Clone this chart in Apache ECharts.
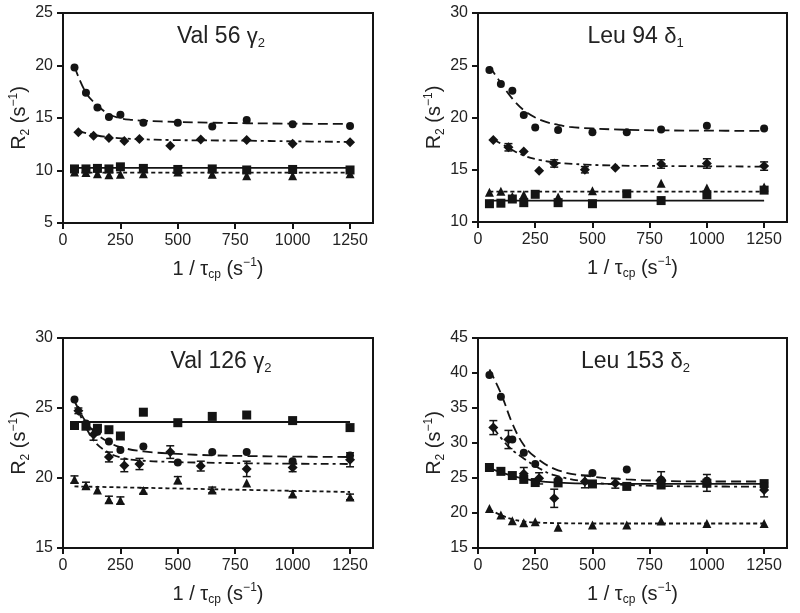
<!DOCTYPE html>
<html><head><meta charset="utf-8">
<script src="https://cdn.jsdelivr.net/npm/echarts@6/dist/echarts.min.js"></script>
<style>html,body{margin:0;padding:0;background:#fff}#c{width:800px;height:613px}</style>
</head><body><div id="c"></div>
<script>
// ---------- data ----------
const xTickLabels = [0, 250, 500, 750, 1000, 1250];
const xPts = [50, 100, 150, 200, 250, 350, 500, 650, 800, 1000, 1250];
const xDia = [67, 133, 200, 267, 333, 467, 600, 800, 1000, 1250];

const panelTitles = ['Val 56 {g|γ}{sub|2}', 'Leu 94 {g|δ}{sub|1}', 'Val 126 {g|γ}{sub|2}', 'Leu 153 {g|δ}{sub|2}'];
const yMins = [5, 10, 15, 15];
const yMaxs = [25, 30, 30, 45];
const yIntervals = [5, 5, 5, 5];

// Panel 1: Val 56 γ2
const p1Circle = [19.8, 17.4, 16.0, 15.1, 15.3, 14.55, 14.55, 14.2, 14.8, 14.4, 14.25];
const p1Diamond = [13.65, 13.3, 13.1, 12.8, 13.0, 12.35, 12.95, 12.9, 12.55, 12.7];
const p1Square = [10.15, 10.15, 10.2, 10.15, 10.35, 10.2, 10.1, 10.15, 10.05, 10.1, 10.05];
const p1Triangle = [9.85, 9.8, 9.7, 9.6, 9.65, 9.7, 9.85, 9.65, 9.5, 9.5, 9.7];
const p1CircleFitX = [50, 100, 150, 200, 250, 300, 350, 500, 650, 800, 1000, 1250];
const p1CircleFit = [19.9, 17.4, 16.2, 15.35, 14.98, 14.82, 14.74, 14.62, 14.55, 14.5, 14.46, 14.43];
const p1DiamondFit = [13.75, 13.4, 13.17, 13.05, 12.98, 12.9, 12.87, 12.84, 12.78, 12.72];
const p1SquareFit = [10.25, 10.25];
const p1TriangleFit = [9.8, 9.8];
const p1FlatX = [50, 1250];

// Panel 2: Leu 94 δ1
const p2Circle = [24.55, 23.2, 22.55, 20.25, 19.05, 18.8, 18.6, 18.6, 18.85, 19.2, 18.95];
const p2Diamond = [17.85, 17.15, 16.75, 14.9, 15.6, 15.0, 15.2, 15.55, 15.6, 15.35];
const p2DiamondErr = [0, 0.35, 0, 0, 0.35, 0.3, 0, 0.4, 0.45, 0.4];
const p2Square = [11.75, 11.8, 12.2, 11.85, 12.65, 11.85, 11.75, 12.7, 12.05, 12.6, 13.05];
const p2TriangleX = [50, 100, 150, 200, 350, 500, 800, 1000, 1250];
const p2Triangle = [12.85, 12.95, 12.45, 12.6, 12.4, 13.0, 13.7, 13.25, 13.35];
const p2CircleFitX = [50, 100, 150, 200, 250, 300, 350, 400, 500, 650, 800, 1000, 1250];
const p2CircleFit = [24.9, 23.3, 21.8, 20.7, 20.0, 19.55, 19.3, 19.1, 18.95, 18.82, 18.77, 18.74, 18.72];
const p2DiamondFit = [17.9, 17.1, 16.35, 15.95, 15.7, 15.5, 15.4, 15.36, 15.33, 15.3];
const p2SquareFit = [12.05, 12.05];
const p2TriangleFit = [12.9, 12.9];

// Panel 3: Val 126 γ2
const p3Circle = [25.6, 23.9, 23.3, 22.6, 22.0, 22.25, 21.1, 21.85, 21.85, 21.2, 21.6];
const p3Diamond = [24.8, 23.1, 21.5, 20.9, 21.0, 21.85, 20.85, 20.65, 20.75, 21.3];
const p3DiamondErr = [0.2, 0.4, 0.35, 0.45, 0.4, 0.45, 0.35, 0.55, 0.3, 0.5];
const p3Square = [23.75, 23.7, 23.55, 23.45, 23.0, 24.7, 23.95, 24.4, 24.5, 24.1, 23.6];
const p3Triangle = [19.9, 19.45, 19.15, 18.45, 18.4, 19.1, 19.85, 19.15, 19.65, 18.85, 18.65];
const p3TriangleErr = [0.25, 0.25, 0, 0.25, 0.25, 0.2, 0.25, 0.2, 0, 0.2, 0.2];
const p3CircleFit = [25.5, 24.0, 23.1, 22.55, 22.2, 21.9, 21.72, 21.62, 21.57, 21.53, 21.5];
const p3DiamondFit = [24.8, 22.7, 21.8, 21.4, 21.25, 21.15, 21.1, 21.05, 21.02, 21.0];
const p3SquareFit = [24.0, 24.0];
const p3TriangleFitX = [50, 650, 1250];
const p3TriangleFit = [19.4, 19.2, 19.0];

// Panel 4: Leu 153 δ2
const p4Circle = [39.7, 36.6, 30.5, 28.6, 27.0, 24.7, 25.7, 26.2, 24.7, 24.6, 23.8];
const p4Diamond = [32.2, 30.5, 25.6, 24.95, 22.1, 24.5, 24.25, 24.8, 24.3, 23.3];
const p4DiamondErr = [1.0, 1.3, 0.9, 0.8, 1.3, 0.9, 0.7, 1.1, 1.2, 1.0];
const p4Square = [26.5, 25.95, 25.35, 24.8, 24.35, 24.3, 24.15, 23.8, 24.0, 24.25, 24.2];
const p4Triangle = [20.65, 19.7, 18.9, 18.6, 18.75, 17.95, 18.3, 18.3, 18.85, 18.5, 18.5];
const p4CircleFit = [40.5, 37.1, 32.8, 29.7, 28.0, 26.1, 25.2, 24.8, 24.6, 24.5, 24.5];
const p4DiamondFit = [32.2, 29.5, 27.8, 26.4, 25.4, 24.5, 24.1, 23.86, 23.8, 23.76];
const p4CurveX = [50, 100, 150, 200, 250, 350, 500, 800, 1250];
const p4SquareFit = [26.4, 25.8, 25.3, 24.9, 24.6, 24.35, 24.2, 24.15, 24.15];
const p4TriangleFit = [20.5, 19.7, 19.1, 18.8, 18.65, 18.55, 18.5, 18.5, 18.5];

// ---------- build ----------
const INK = '#141414';
const FONT = '"Liberation Sans", Arial, sans-serif';
const grids = [
  {left: 63, top: 13, width: 310, height: 210},
  {left: 478, top: 13, width: 309, height: 209},
  {left: 63, top: 338, width: 310, height: 210},
  {left: 478, top: 338, width: 309, height: 210}
];
const zip = (xs, ys) => xs.map((x, i) => [x, ys[i]]);
const errData = (xs, ys, es) => xs.map((x, i) => [x, ys[i] - es[i], ys[i] + es[i], es[i]]).filter(d => d[3] > 0);

const subRich = {
  sub: {fontSize: 12, fontFamily: FONT, color: '#222', verticalAlign: 'bottom', lineHeight: 12},
  sup: {fontSize: 12, fontFamily: FONT, color: '#222', verticalAlign: 'top', lineHeight: 12},
  g: {fontSize: 20, fontFamily: FONT, color: '#222', lineHeight: 24}
};

const series = [];
function scatter(gi, data, symbol, size) {
  series.push({type: 'scatter', xAxisIndex: gi, yAxisIndex: gi, data, symbol, symbolSize: size,
    itemStyle: {color: INK, opacity: 1}, z: 5, silent: true});
}
function fit(gi, xs, ys, dash) {
  series.push({type: 'line', xAxisIndex: gi, yAxisIndex: gi, data: zip(xs, ys), smooth: 0.4,
    showSymbol: false, symbol: 'none', lineStyle: {color: INK, width: 1.8, type: dash}, z: 3, silent: true});
}
function ebars(gi, data) {
  series.push({type: 'custom', xAxisIndex: gi, yAxisIndex: gi, data, z: 4, silent: true,
    encode: {x: 0, y: [1, 2]},
    renderItem: (params, api) => {
      const x = api.value(0);
      const a = api.coord([x, api.value(2)]);
      const b = api.coord([x, api.value(1)]);
      const w = 4, st = {stroke: INK, lineWidth: 1.5};
      return {type: 'group', children: [
        {type: 'line', shape: {x1: a[0], y1: a[1], x2: b[0], y2: b[1]}, style: st},
        {type: 'line', shape: {x1: a[0] - w, y1: a[1], x2: a[0] + w, y2: a[1]}, style: st},
        {type: 'line', shape: {x1: b[0] - w, y1: b[1], x2: b[0] + w, y2: b[1]}, style: st}
      ]};
    }});
}
const LONG = [10, 5], DASHDOT = [8, 4, 3, 4], SHORT = [4, 3], SOLID = 'solid';

// panel 1
fit(0, p1CircleFitX, p1CircleFit, LONG);
fit(0, xDia, p1DiamondFit, DASHDOT);
fit(0, p1FlatX, p1SquareFit, SOLID);
fit(0, p1FlatX, p1TriangleFit, SHORT);
scatter(0, zip(xPts, p1Triangle), 'triangle', 9);
scatter(0, zip(xPts, p1Square), 'rect', 9);
scatter(0, zip(xDia, p1Diamond), 'diamond', 10);
scatter(0, zip(xPts, p1Circle), 'circle', 8);
// panel 2
fit(1, p2CircleFitX, p2CircleFit, LONG);
fit(1, xDia, p2DiamondFit, DASHDOT);
fit(1, p1FlatX, p2SquareFit, SOLID);
fit(1, p1FlatX, p2TriangleFit, SHORT);
ebars(1, errData(xDia, p2Diamond, p2DiamondErr));
scatter(1, zip(p2TriangleX, p2Triangle), 'triangle', 9);
scatter(1, zip(xPts, p2Square), 'rect', 9);
scatter(1, zip(xDia, p2Diamond), 'diamond', 10);
scatter(1, zip(xPts, p2Circle), 'circle', 8);
// panel 3
fit(2, xPts, p3CircleFit, LONG);
fit(2, xDia, p3DiamondFit, DASHDOT);
fit(2, p1FlatX, p3SquareFit, SOLID);
fit(2, p3TriangleFitX, p3TriangleFit, SHORT);
ebars(2, errData(xDia, p3Diamond, p3DiamondErr));
ebars(2, errData(xPts, p3Triangle, p3TriangleErr));
scatter(2, zip(xPts, p3Triangle), 'triangle', 9);
scatter(2, zip(xPts, p3Square), 'rect', 9);
scatter(2, zip(xDia, p3Diamond), 'diamond', 10);
scatter(2, zip(xPts, p3Circle), 'circle', 8);
// panel 4
fit(3, xPts, p4CircleFit, LONG);
fit(3, xDia, p4DiamondFit, DASHDOT);
fit(3, p4CurveX, p4SquareFit, SOLID);
fit(3, p4CurveX, p4TriangleFit, SHORT);
ebars(3, errData(xDia, p4Diamond, p4DiamondErr));
scatter(3, zip(xPts, p4Triangle), 'triangle', 9);
scatter(3, zip(xPts, p4Square), 'rect', 9);
scatter(3, zip(xDia, p4Diamond), 'diamond', 10);
scatter(3, zip(xPts, p4Circle), 'circle', 8);

const axisLineStyle = {color: INK, width: 2};
const xAxes = grids.map((g, i) => ({
  type: 'value', gridIndex: i, min: 0, max: 1350,
  name: '1 / τ{sub|cp} (s{sup|−1})', nameLocation: 'middle', nameGap: 34,
  nameTextStyle: {fontSize: 20, fontFamily: FONT, color: '#222', lineHeight: 24, rich: subRich},
  axisLine: {show: true, onZero: false, lineStyle: axisLineStyle},
  axisTick: {show: true, length: 6, lineStyle: {color: INK, width: 2}, customValues: xTickLabels},
  axisLabel: {fontSize: 16, fontFamily: FONT, color: '#222', margin: 10, customValues: xTickLabels,
    formatter: v => String(v)},
  splitLine: {show: false}
}));
const yAxes = grids.map((g, i) => ({
  type: 'value', gridIndex: i, min: yMins[i], max: yMaxs[i], interval: yIntervals[i],
  name: 'R{sub|2} (s{sup|−1})', nameLocation: 'middle', nameGap: 31, nameRotate: 90,
  nameTextStyle: {fontSize: 20, fontFamily: FONT, color: '#222', lineHeight: 24, rich: subRich},
  axisLine: {show: true, onZero: false, lineStyle: axisLineStyle},
  axisTick: {show: true, length: 6, lineStyle: {color: INK, width: 2}},
  axisLabel: {fontSize: 16, fontFamily: FONT, color: '#222', margin: 10, formatter: v => String(v)},
  splitLine: {show: false}
}));
const titles = grids.map((g, i) => ({
  text: panelTitles[i], left: g.left + g.width / 2 - 2, top: g.top + 5, textAlign: 'center',
  textStyle: {fontSize: 23, fontWeight: 'normal', fontFamily: FONT, color: '#222', lineHeight: 27,
    rich: {
      g: {fontSize: 22, fontFamily: FONT, color: '#222', lineHeight: 27},
      sub: {fontSize: 13, fontFamily: FONT, color: '#222', verticalAlign: 'bottom', lineHeight: 14}
    }}
}));

const chart = echarts.init(document.getElementById('c'), null, {renderer: 'canvas'});
chart.setOption({
  animation: false,
  backgroundColor: '#fff',
  title: titles,
  grid: grids.map(g => Object.assign({show: true, borderColor: INK, borderWidth: 2, backgroundColor: 'transparent'}, g)),
  xAxis: xAxes,
  yAxis: yAxes,
  series
});
</script></body></html>
